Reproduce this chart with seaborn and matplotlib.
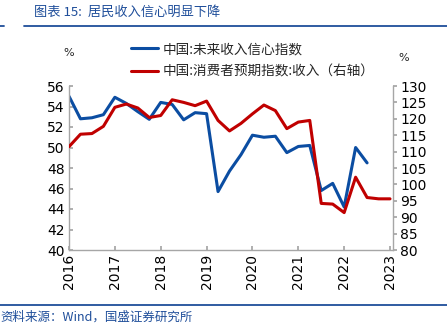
import matplotlib
matplotlib.use("Agg")
import matplotlib.pyplot as plt
import seaborn as sns
import pandas as pd
import numpy as np

sns.set_theme(style="white")
plt.rcParams['font.family'] = ['Noto Sans CJK SC', 'DejaVu Sans']

# quarterly data starting 2016Q1
blue_label = "中国:未来收入信心指数"
red_label = "中国:消费者预期指数:收入（右轴）"
blue_vals = [55.0, 52.8, 52.9, 53.2, 54.9, 54.3, 53.5, 52.75, 54.4, 54.2, 52.7, 53.4, 53.3,
             45.7, 47.7, 49.3, 51.2, 51.0, 51.1, 49.5, 50.1, 50.2, 45.8, 46.5, 44.2, 50.0, 48.5]
red_vals = [111.5, 115.3, 115.5, 117.7, 123.5, 124.5, 123.3, 120.4, 121.0, 125.8, 125.0, 124.0,
            125.4, 119.5, 116.3, 118.6, 121.5, 124.2, 122.5, 117.0, 119.0, 119.5, 94.2, 94.0,
            91.4, 102.2, 96.0, 95.6, 95.6]
year_ticks = [2016, 2017, 2018, 2019, 2020, 2021, 2022, 2023]
left_ticks = [40, 42, 44, 46, 48, 50, 52, 54, 56]
right_ticks = [80, 85, 90, 95, 100, 105, 110, 115, 120, 125, 130]

blue_df = pd.DataFrame({"t": [2016 + 0.25 * i for i in range(len(blue_vals))], "v": blue_vals})
red_df = pd.DataFrame({"t": [2016 + 0.25 * i for i in range(len(red_vals))], "v": red_vals})

BLUE = "#0B4DA2"
RED = "#C00000"
NAVY = "#1F4E9A"
GRAY = "#A6A6A6"
TICKFS = 10

fig = plt.figure(figsize=(4.47, 3.31), dpi=100)
ax = fig.add_axes([69 / 447, 1 - 250 / 331, (393 - 69) / 447, (250 - 86) / 331])
ax2 = ax.twinx()

sns.lineplot(data=blue_df, x="t", y="v", ax=ax, color=BLUE, linewidth=2.2, label=blue_label, legend=False)
sns.lineplot(data=red_df, x="t", y="v", ax=ax2, color=RED, linewidth=2.2, label=red_label, legend=False)

ax.set_xlim(2016, 2023.065)
ax.set_ylim(40, 56)
ax2.set_ylim(80, 130)
ax.set_xticks(year_ticks)
ax.set_xticklabels([str(y) for y in year_ticks], rotation=90, fontsize=TICKFS, family='DejaVu Sans')
ax.set_yticks(left_ticks)
ax.set_yticklabels([str(v) for v in left_ticks], fontsize=TICKFS, family='DejaVu Sans')
ax2.set_yticks(right_ticks)
ax2.set_yticklabels([str(v) for v in right_ticks], fontsize=TICKFS, family='DejaVu Sans')
ax.set_xlabel("")
ax.set_ylabel("")
ax2.set_ylabel("")

for a in (ax, ax2):
    a.spines['top'].set_visible(False)
    for s in ('left', 'right', 'bottom'):
        a.spines[s].set_color(GRAY)
        a.spines[s].set_linewidth(1.0)
ax.spines['right'].set_visible(False)
ax2.spines['left'].set_visible(False)
ax2.spines['bottom'].set_visible(False)

ax.tick_params(axis='y', direction='in', length=3, color=GRAY, pad=3, left=True, labelcolor='black')
ax.tick_params(axis='x', direction='in', length=3, color=GRAY, pad=3, bottom=True, labelcolor='black')
ax2.tick_params(axis='y', direction='out', length=3, color=GRAY, pad=2, right=True, labelcolor='black')

# legend
h1, l1 = ax.get_legend_handles_labels()
h2, l2 = ax2.get_legend_handles_labels()
fig.legend(h1 + h2, l1 + l2, loc='upper left', bbox_to_anchor=(131 / 447, 1 - 42 / 331),
           frameon=False, fontsize=9.8, handlelength=2.0, handletextpad=0.35, labelspacing=0.62,
           borderaxespad=0, borderpad=0)

fig.text(69 / 447, 1 - 53 / 331, "%", ha='center', va='center', fontsize=8, family='DejaVu Sans')
fig.text(404 / 447, 1 - 58 / 331, "%", ha='center', va='center', fontsize=8, family='DejaVu Sans')

# title, rules, source
fig.text(34 / 447, 1 - 12 / 331, "图表 15:  居民收入信心明显下降", ha='left', va='center',
         fontsize=9.5, color=NAVY, style='italic')
fig.add_artist(plt.Line2D([24 / 447, 1.0], [1 - 26 / 331, 1 - 26 / 331], color=NAVY, linewidth=1.3,
                          transform=fig.transFigure))
fig.add_artist(plt.Line2D([0, 4 / 447], [1 - 26 / 331, 1 - 26 / 331], color=NAVY, linewidth=1.3,
                          transform=fig.transFigure))
fig.add_artist(plt.Line2D([0, 1.0], [1 - 305 / 331, 1 - 305 / 331], color=NAVY, linewidth=1.3,
                          transform=fig.transFigure))
fig.text(0 / 447, 1 - 317 / 331, "资料来源：Wind，国盛证券研究所", ha='left', va='center',
         fontsize=9, color=NAVY, style='italic')

fig.savefig("out.png", dpi=100)
